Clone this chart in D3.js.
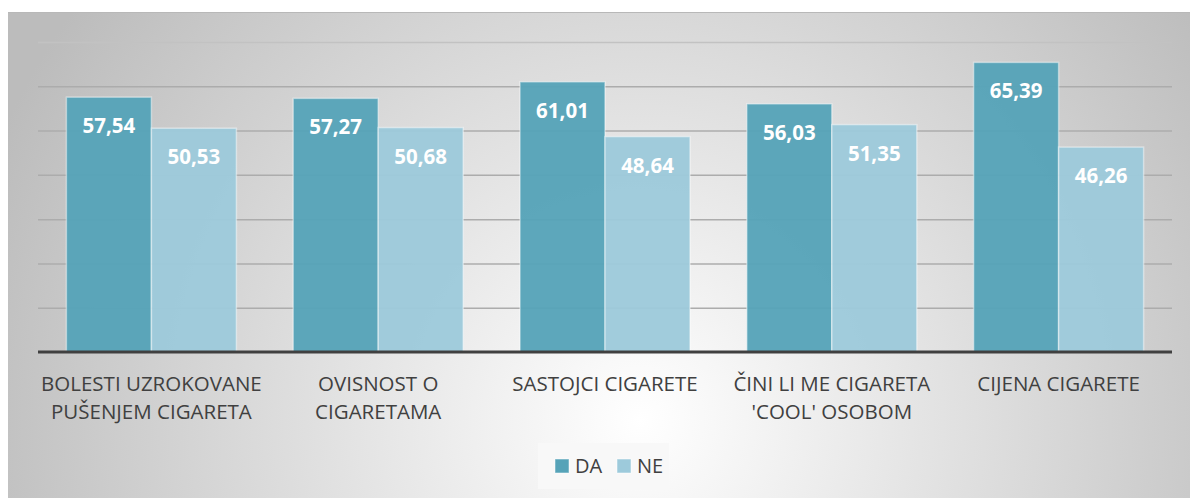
<!DOCTYPE html>
<html>
<head>
<meta charset="utf-8">
<script src="https://cdn.jsdelivr.net/npm/d3@7"></script>
<style>
  body { margin: 0; background: #fff; }
  svg { display: block; font-family: "Open Sans", sans-serif; }
</style>
</head>
<body>
<div id="chart"></div>
<script>
var categories = [
    ["BOLESTI UZROKOVANE", "PUŠENJEM CIGARETA"],
    ["OVISNOST O", "CIGARETAMA"],
    ["SASTOJCI CIGARETE"],
    ["ČINI LI ME CIGARETA", "'COOL' OSOBOM"],
    ["CIJENA CIGARETE"]
];
var seriesNames = ["DA", "NE"];
var daValues = [57.54, 57.27, 61.01, 56.03, 65.39];
var neValues = [50.53, 50.68, 48.64, 51.35, 46.26];
var yTicks = [0, 10, 20, 30, 40, 50, 60, 70];
var colors = ["#56a3b8", "#9dcadb"];

var svgWidth = 1190;
var svgHeight = 498;

var svg = d3.select("#chart")
    .append("svg")
    .attr("width", svgWidth)
    .attr("height", svgHeight);

var defs = svg.append("defs");
var grad = defs.append("radialGradient")
    .attr("id", "bg")
    .attr("gradientUnits", "userSpaceOnUse")
    .attr("cx", 640).attr("cy", 420).attr("r", 700);
grad.append("stop").attr("offset", "0").attr("stop-color", "#ffffff");
grad.append("stop").attr("offset", "1").attr("stop-color", "#bcbcbc");

svg.append("rect")
    .attr("x", 8).attr("y", 12)
    .attr("width", svgWidth - 8).attr("height", svgHeight - 12)
    .attr("fill", "url(#bg)");
svg.append("line")
    .attr("x1", 8).attr("x2", svgWidth)
    .attr("y1", 12.5).attr("y2", 12.5)
    .attr("stroke", "#b8b8b8").attr("stroke-width", 1);

var plot = { left: 38, right: 1172, top: 42, bottom: 352 };

var xScale = d3.scaleBand()
    .domain(d3.range(categories.length))
    .range([plot.left, plot.right]);

var xInner = d3.scaleBand()
    .domain(seriesNames)
    .range([0, xScale.bandwidth()])
    .paddingOuter(0.334)
    .paddingInner(0.0);

var yScale = d3.scaleLinear()
    .domain([0, 70])
    .range([plot.bottom, plot.top]);

// gridlines
var leftAxis = d3.axisLeft(yScale)
    .tickValues(yTicks.slice(1))
    .tickSize(-(plot.right - plot.left))
    .tickFormat("");
var grid = svg.append("g")
    .attr("transform", `translate(${plot.left}, 0)`)
    .call(leftAxis);
grid.select(".domain").remove();
grid.selectAll("line")
    .attr("stroke", d => d === 70 ? "#c2c2c2" : "#acacac")
    .attr("stroke-width", 1.5);

var data = categories.map(function(c, i) {
    return { i: i, values: [daValues[i], neValues[i]] };
});

var groups = svg.selectAll(".grp")
    .data(data)
    .enter()
    .append("g")
    .attr("class", "grp")
    .attr("transform", d => `translate(${xScale(d.i)}, 0)`);

groups.selectAll("rect")
    .data(d => d.values.map((v, k) => ({ key: seriesNames[k], k: k, v: v })))
    .enter()
    .append("rect")
    .attr("x", d => xInner(d.key))
    .attr("y", d => yScale(d.v))
    .attr("width", xInner.bandwidth())
    .attr("height", d => yScale(0) - yScale(d.v))
    .attr("fill", d => colors[d.k])
    .attr("fill-opacity", 0.96)
    .attr("stroke", "rgba(255,255,255,0.45)")
    .attr("stroke-width", 1.5);

groups.selectAll("text.val")
    .data(d => d.values.map((v, k) => ({ key: seriesNames[k], k: k, v: v })))
    .enter()
    .append("text")
    .attr("class", "val")
    .attr("x", d => xInner(d.key) + xInner.bandwidth() / 2)
    .attr("y", d => yScale(d.v) + 36)
    .attr("text-anchor", "middle")
    .attr("font-size", "20.5px")
    .attr("font-weight", "bold")
    .attr("fill", "#ffffff")
    .text(d => d.v.toFixed(2).replace(".", ","));

// baseline
svg.append("line")
    .attr("x1", plot.left).attr("x2", plot.right)
    .attr("y1", yScale(0)).attr("y2", yScale(0))
    .attr("stroke", "#404040")
    .attr("stroke-width", 3);

// category labels
var labels = svg.selectAll(".cat")
    .data(categories)
    .enter()
    .append("text")
    .attr("class", "cat")
    .attr("text-anchor", "middle")
    .attr("font-size", "20.5px")
    .attr("fill", "#404040")
    .attr("transform", (d, i) => `translate(${xScale(i) + xScale.bandwidth() / 2}, 391)`);
labels.selectAll("tspan")
    .data(d => d)
    .enter()
    .append("tspan")
    .attr("x", 0)
    .attr("y", (d, j) => j * 28)
    .text(d => d);

// legend
var legend = svg.append("g");
legend.append("rect")
    .attr("x", 538).attr("y", 443)
    .attr("width", 131).attr("height", 46)
    .attr("fill", "#f8f8f8");
var items = legend.selectAll(".item")
    .data(seriesNames)
    .enter()
    .append("g")
    .attr("transform", (d, i) => `translate(${555 + i * 62}, 459)`);
items.append("rect")
    .attr("width", 14).attr("height", 14)
    .attr("fill", (d, i) => colors[i])
    .attr("stroke", "rgba(255,255,255,0.5)");
items.append("text")
    .attr("x", 20)
    .attr("y", 14)
    .attr("font-size", "20px")
    .attr("fill", "#404040")
    .text(d => d);
</script>
</body>
</html>
